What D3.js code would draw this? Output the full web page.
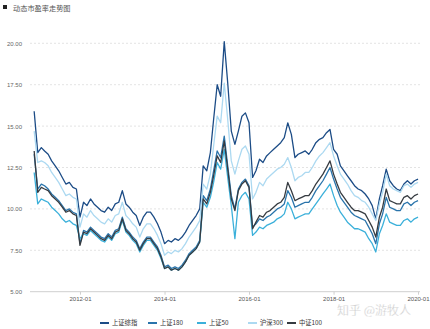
<!DOCTYPE html>
<html><head><meta charset="utf-8">
<script src="https://cdn.jsdelivr.net/npm/d3@7"></script>
<style>body{margin:0;background:#fff;}svg{display:block;font-family:"Noto Sans CJK SC","Noto Sans",sans-serif;}</style>
</head><body><svg id="c" width="430" height="329"></svg>
<script>
const title = "动态市盈率走势图";
const seriesNames = ["上证综指","上证180","上证50","沪深300","中证100"];
const seriesColors = ["#1c4c86","#2a74ab","#3bb0da","#acd9f1","#363b41"];
const startMonth = "2010-12";
const yTicks = [5,7.5,10,12.5,15,17.5,20];
const xTickLabels = ["2012-01","2014-01","2016-01","2018-01","2020-01"];

const szzz = [15.9,13.4,13.7,13.5,13.3,12.9,12.6,12.3,11.9,11.5,11.6,11.3,11.2,9.5,10.4,10.2,10.6,10.3,10.1,9.9,9.8,10.1,9.9,10.3,10.4,11.1,10.3,10.1,9.8,9.6,9.0,9.5,9.8,9.8,9.5,9.1,8.6,7.9,8.1,8.0,8.2,8.1,8.3,8.6,9.0,9.3,9.6,10.0,12.6,12.3,13.4,15.4,17.5,16.8,20.1,17.6,14.7,13.9,14.7,15.6,15.8,15.2,11.9,12.3,13.0,12.8,13.2,13.4,13.6,13.8,14.0,14.3,15.2,14.5,13.1,13.3,13.4,13.5,13.3,13.6,14.0,14.2,14.3,14.6,14.8,13.6,13.3,12.6,12.3,12.0,11.7,11.4,11.2,11.1,10.9,10.6,10.2,9.4,10.6,11.4,12.4,11.7,11.4,11.2,11.1,11.5,11.7,11.5,11.7,11.8];
const sz180 = [13.3,11.2,11.5,11.4,11.2,10.9,10.7,10.5,10.2,9.9,10.0,9.8,9.7,7.9,8.7,8.6,8.9,8.7,8.5,8.3,8.2,8.5,8.3,8.7,8.8,9.5,8.8,8.6,8.3,8.1,7.6,8.0,8.3,8.3,8.0,7.7,7.2,6.5,6.6,6.4,6.5,6.4,6.6,6.9,7.3,7.5,7.7,8.1,10.8,10.5,11.2,12.3,13.5,13.1,14.4,12.6,10.8,10.0,11.2,11.6,11.8,11.4,8.9,9.1,9.4,9.3,9.5,9.6,9.8,10.0,10.1,10.3,11.1,10.7,10.1,10.2,10.3,10.4,10.4,10.7,11.1,11.4,11.7,12.1,12.5,11.8,11.2,10.7,10.4,10.1,9.8,9.6,9.5,9.4,9.3,8.9,8.5,7.9,9.1,9.7,10.7,10.1,10.0,9.9,9.9,10.3,10.4,10.2,10.4,10.5];
const sz50 = [12.2,10.3,10.6,10.5,10.4,10.1,9.9,9.7,9.4,9.2,9.3,9.1,9.0,8.2,8.5,8.4,8.7,8.5,8.3,8.1,8.0,8.3,8.1,8.5,8.6,9.3,8.6,8.4,8.1,7.9,7.4,7.8,8.1,8.1,7.8,7.5,7.0,6.4,6.5,6.3,6.4,6.3,6.5,6.8,7.2,7.4,7.6,8.0,10.4,10.1,10.7,11.6,12.8,12.4,13.6,11.9,10.2,8.2,10.4,10.8,11.0,10.6,8.4,8.6,8.9,8.8,9.0,9.1,9.2,9.4,9.5,9.7,10.4,10.0,9.4,9.5,9.6,9.7,9.7,10.0,10.3,10.6,10.9,11.2,11.5,10.8,10.2,9.8,9.5,9.2,9.0,8.8,8.8,8.7,8.6,8.2,7.9,7.4,8.5,9.0,9.7,9.2,9.1,9.0,9.0,9.3,9.4,9.2,9.4,9.5];
const hs300 = [14.7,12.8,12.9,12.8,12.6,12.2,11.9,11.6,11.2,10.8,10.9,10.7,10.6,8.9,9.7,9.5,9.9,9.6,9.4,9.2,9.1,9.4,9.2,9.6,9.7,10.4,9.6,9.4,9.1,8.9,8.3,8.8,9.1,9.1,8.8,8.4,7.9,7.2,7.4,7.3,7.5,7.4,7.6,7.9,8.3,8.6,8.9,9.3,11.5,11.2,12.1,13.8,15.6,15.2,17.6,15.4,12.9,12.1,12.9,13.6,13.8,13.3,10.6,11.0,11.6,11.4,11.8,12.0,12.2,12.4,12.5,12.7,13.1,12.5,11.7,11.9,12.0,12.2,12.2,12.5,12.9,13.2,13.4,13.7,14.0,13.2,12.6,12.1,11.8,11.5,11.1,10.8,10.7,10.5,10.4,10.1,9.7,9.3,10.3,11.0,12.1,11.4,11.2,11.1,11.0,11.4,11.5,11.3,11.5,11.6];
const zz100 = [13.5,11.0,11.3,11.2,11.1,10.8,10.6,10.4,10.1,9.8,9.9,9.7,9.6,7.8,8.6,8.5,8.8,8.6,8.4,8.2,8.1,8.4,8.2,8.6,8.7,9.4,8.7,8.5,8.2,8.0,7.5,7.9,8.2,8.2,7.9,7.6,7.1,6.4,6.5,6.3,6.4,6.3,6.5,6.8,7.2,7.4,7.6,8.0,10.6,10.3,11.0,12.0,13.2,12.8,14.1,12.4,10.6,9.9,11.1,11.5,11.7,11.3,8.8,9.2,9.6,9.5,9.8,9.9,10.1,10.3,10.4,10.7,11.6,11.1,10.5,10.6,10.7,10.8,10.8,11.1,11.5,11.8,12.1,12.5,12.9,12.1,11.5,11.0,10.7,10.4,10.1,9.9,9.9,9.8,9.7,9.3,8.9,8.3,9.5,10.1,11.2,10.5,10.4,10.3,10.3,10.7,10.8,10.6,10.8,10.9];

const seriesValues = [szzz, sz180, sz50, hs300, zz100];
const parseM = d3.timeParse("%Y-%m");
const m0 = parseM(startMonth);
const dates = szzz.map((_, i) => d3.timeMonth.offset(m0, i));

const svg = d3.select("#c");
const x = d3.scaleTime().domain([new Date(2010,9,26), new Date(2020,0,18)]).range([30, 420]);
const y = d3.scaleLinear().domain([5, 20]).range([291.7, 43.3]);

// title
svg.append("rect").attr("x",3).attr("y",5).attr("width",4).attr("height",4).attr("fill","#222");
svg.append("text").attr("x",13).attr("y",10.5).attr("font-size",7.2).attr("fill","#555").text(title);

// y axis + grid
const yAxis = d3.axisLeft(y).tickValues(yTicks).tickFormat(d3.format(".2f")).tickSize(0).tickPadding(8);
const gy = svg.append("g").attr("transform","translate(30,0)").call(yAxis);
gy.select(".domain").remove();
gy.selectAll("text").attr("font-size",6).attr("fill","#666").attr("font-family","Liberation Sans, sans-serif");
svg.append("g").selectAll("line").data(yTicks.filter(d=>d>5)).join("line")
  .attr("x1",30).attr("x2",420).attr("y1",d=>y(d)).attr("y2",d=>y(d))
  .attr("stroke","#dcdcdc").attr("stroke-width",0.8).attr("stroke-dasharray","2,2");

// x axis
const xTickDates = xTickLabels.map(parseM);
const xAxis = d3.axisBottom(x).tickValues(xTickDates).tickFormat(d3.timeFormat("%Y-%m")).tickSize(3).tickPadding(2);
const gx = svg.append("g").attr("transform",`translate(0,${y(5)})`).call(xAxis);
gx.select(".domain").attr("d","M30,0H420").attr("stroke","#cfcfcf");
gx.selectAll(".tick line").attr("stroke","#cfcfcf");
gx.selectAll("text").attr("font-size",6).attr("fill","#555").attr("font-family","Liberation Sans, sans-serif");

// lines
const line = d3.line().x((d,i)=>x(dates[i])).y(d=>y(d)).curve(d3.curveLinear);
seriesValues.forEach((vals, k) => {
  svg.append("path").datum(vals).attr("d", line)
    .attr("fill","none").attr("stroke", seriesColors[k]).attr("stroke-width",1.3)
    .attr("stroke-linejoin","round");
});

// legend
const legendX = [100, 148, 197, 248, 287];
const lg = svg.append("g");
seriesNames.forEach((n,k) => {
  const g = lg.append("g").attr("transform",`translate(${legendX[k]},323)`);
  g.append("line").attr("x1",0).attr("x2",9).attr("y1",0).attr("y2",0)
    .attr("stroke",seriesColors[k]).attr("stroke-width",2);
  g.append("text").attr("x",12).attr("y",2.3).attr("font-size",6.3).attr("fill","#333").text(n);
});

// watermark
svg.append("text").attr("x",337).attr("y",314.5).attr("font-size",12).attr("fill","#c4c4c4")
  .attr("stroke","#fff").attr("stroke-width",0.3).text("知乎 @游牧人");
</script></body></html>
